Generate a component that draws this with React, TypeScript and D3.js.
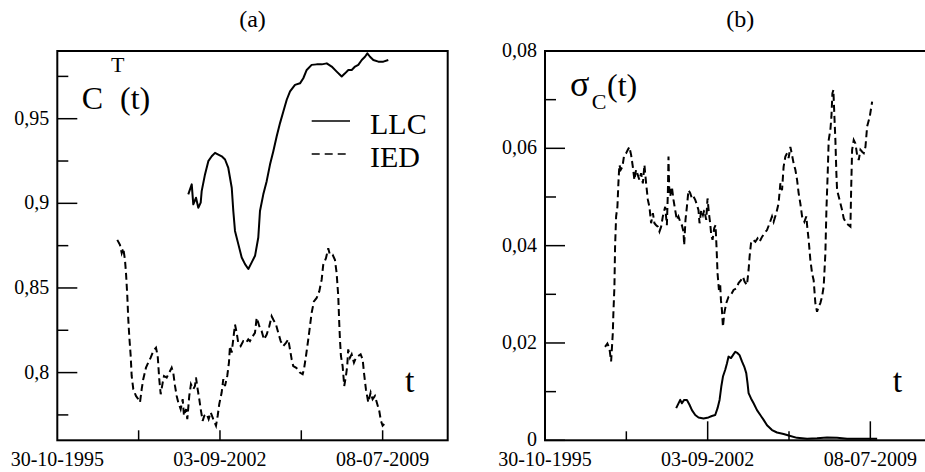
import React, { useEffect, useRef } from 'react';
import * as d3 from 'd3';

type Pt = [number, number]; // [days since 30-10-1995, value]

const startDate = Date.UTC(1995, 9, 30);
const DAY = 864e5;
const xEndDay = 6000;
const xTickDays = [1250, 2500, 3750, 5000];
const xLabelDays = [0, 2500, 5000];

const ctMajor = [0.8, 0.85, 0.9, 0.95];
const ctMinor = [0.775, 0.825, 0.875, 0.925, 0.975];
const sdMajor = [0, 0.02, 0.04, 0.06, 0.08];
const sdMinor = [0.01, 0.03, 0.05, 0.07];

const legendNames = ['LLC', 'IED'];

// panel (a): C^T(t)
const ctLLC: Pt[] = [
  [2013, 0.9053], [2066, 0.9112], [2090, 0.8994], [2132, 0.9033], [2167, 0.8974], [2204, 0.9004],
  [2219, 0.9072], [2270, 0.9171], [2321, 0.9249], [2373, 0.9278], [2424, 0.9298], [2475, 0.9288],
  [2527, 0.9278], [2578, 0.9259], [2628, 0.9209], [2681, 0.9092], [2705, 0.8955], [2731, 0.8837],
  [2782, 0.8759], [2834, 0.8680], [2885, 0.8641], [2936, 0.8612], [2988, 0.8651], [3039, 0.8690],
  [3089, 0.8798], [3115, 0.8955], [3166, 0.9053], [3218, 0.9131], [3269, 0.9229], [3320, 0.9308],
  [3372, 0.9396], [3423, 0.9474], [3474, 0.9543], [3526, 0.9612], [3577, 0.9661], [3653, 0.9700],
  [3730, 0.9709], [3781, 0.9739], [3833, 0.9788], [3909, 0.9818], [3986, 0.9821], [4064, 0.9821],
  [4141, 0.9827], [4217, 0.9808], [4294, 0.9778], [4371, 0.9749], [4422, 0.9768], [4473, 0.9788],
  [4525, 0.9788], [4576, 0.9808], [4626, 0.9818], [4679, 0.9847], [4729, 0.9866], [4765, 0.9886],
  [4806, 0.9866], [4857, 0.9847], [4934, 0.9837], [5011, 0.9837], [5087, 0.9847],
];

const ctIED: Pt[] = [
  [922, 0.8784], [963, 0.8755], [990, 0.8706], [1014, 0.8735], [1040, 0.8666], [1056, 0.8588],
  [1076, 0.8451], [1091, 0.8314], [1106, 0.8215], [1128, 0.8098], [1143, 0.7980], [1168, 0.7902],
  [1209, 0.7862], [1245, 0.7843], [1271, 0.7824], [1297, 0.7902], [1321, 0.7961], [1363, 0.8029],
  [1398, 0.8059], [1435, 0.8088], [1475, 0.8127], [1517, 0.8147], [1543, 0.8098], [1567, 0.7961],
  [1589, 0.7872], [1620, 0.7941], [1640, 0.7980], [1681, 0.7971], [1721, 0.8000], [1758, 0.8029],
  [1782, 0.8000], [1809, 0.7921], [1835, 0.7862], [1859, 0.7824], [1896, 0.7784], [1927, 0.7843],
  [1947, 0.7745], [1978, 0.7784], [1998, 0.7725], [2028, 0.7862], [2054, 0.7931], [2090, 0.7902],
  [2116, 0.7921], [2131, 0.7971], [2157, 0.7902], [2182, 0.7843], [2204, 0.7784], [2234, 0.7715],
  [2259, 0.7745], [2296, 0.7755], [2326, 0.7725], [2357, 0.7765], [2397, 0.7725], [2439, 0.7686],
  [2465, 0.7745], [2489, 0.7814], [2526, 0.7882], [2551, 0.7961], [2577, 0.7921], [2612, 0.7980],
  [2638, 0.8059], [2654, 0.8157], [2680, 0.8118], [2704, 0.8196], [2731, 0.8284], [2757, 0.8235],
  [2781, 0.8176], [2818, 0.8157], [2858, 0.8186], [2900, 0.8176], [2935, 0.8196], [2961, 0.8186],
  [3003, 0.8215], [3038, 0.8235], [3064, 0.8324], [3089, 0.8294], [3104, 0.8274], [3141, 0.8245],
  [3176, 0.8196], [3218, 0.8225], [3258, 0.8274], [3294, 0.8333], [3319, 0.8314], [3361, 0.8284],
  [3396, 0.8235], [3433, 0.8186], [3473, 0.8157], [3514, 0.8176], [3550, 0.8196], [3576, 0.8137],
  [3602, 0.8078], [3626, 0.8039], [3668, 0.8029], [3703, 0.8019], [3729, 0.8000], [3771, 0.7990],
  [3791, 0.8019], [3822, 0.8098], [3857, 0.8196], [3883, 0.8274], [3909, 0.8353], [3944, 0.8421],
  [3986, 0.8441], [4026, 0.8480], [4063, 0.8549], [4087, 0.8637], [4129, 0.8676], [4164, 0.8735],
  [4190, 0.8696], [4232, 0.8696], [4267, 0.8666], [4293, 0.8588], [4318, 0.8451], [4333, 0.8294],
  [4344, 0.8196], [4359, 0.8098], [4385, 0.8039], [4410, 0.7921], [4436, 0.7980], [4456, 0.8039],
  [4471, 0.8137], [4498, 0.8088], [4524, 0.8108], [4559, 0.8059], [4590, 0.8088], [4625, 0.8098],
  [4662, 0.8108], [4693, 0.8078], [4713, 0.8000], [4743, 0.7902], [4779, 0.7824], [4816, 0.7882],
  [4846, 0.7843], [4882, 0.7862], [4917, 0.7814], [4948, 0.7774], [4974, 0.7715], [5000, 0.7686],
  [5025, 0.7696],
];

// panel (b): sigma_C(t)
const sdLLC: Pt[] = [
  [2016, 0.0066], [2052, 0.0076], [2078, 0.0083], [2104, 0.0076], [2139, 0.0083], [2181, 0.0083],
  [2221, 0.0073], [2258, 0.0062], [2309, 0.0052], [2359, 0.0047], [2436, 0.0045], [2513, 0.0047],
  [2565, 0.0050], [2616, 0.0052], [2652, 0.0066], [2683, 0.0083], [2709, 0.0110], [2735, 0.0131],
  [2770, 0.0145], [2796, 0.0158], [2821, 0.0172], [2858, 0.0169], [2889, 0.0175], [2924, 0.0182],
  [2960, 0.0179], [2990, 0.0175], [3027, 0.0162], [3063, 0.0151], [3093, 0.0138], [3113, 0.0117],
  [3129, 0.0097], [3166, 0.0086], [3206, 0.0076], [3258, 0.0062], [3309, 0.0052], [3360, 0.0042],
  [3412, 0.0031], [3489, 0.0021], [3566, 0.0016], [3667, 0.0013], [3771, 0.0009], [3874, 0.0005],
  [4028, 0.0003], [4181, 0.0004], [4335, 0.0006], [4489, 0.0005], [4643, 0.0003], [4797, 0.0003],
  [4951, 0.0003], [5105, 0.0003],
];

const sdIED: Pt[] = [
  [923, 0.0192], [959, 0.0199], [990, 0.0189], [1016, 0.0162], [1042, 0.0220], [1051, 0.0261],
  [1067, 0.0316], [1077, 0.0398], [1093, 0.0460], [1113, 0.0480], [1128, 0.0528], [1143, 0.0566],
  [1165, 0.0556], [1190, 0.0562], [1216, 0.0586], [1247, 0.0590], [1273, 0.0597], [1297, 0.0603],
  [1324, 0.0586], [1350, 0.0562], [1374, 0.0535], [1400, 0.0556], [1427, 0.0545], [1451, 0.0535],
  [1477, 0.0549], [1504, 0.0528], [1528, 0.0566], [1554, 0.0528], [1581, 0.0494], [1605, 0.0480],
  [1631, 0.0446], [1658, 0.0467], [1682, 0.0446], [1708, 0.0442], [1734, 0.0439], [1759, 0.0429],
  [1785, 0.0439], [1811, 0.0460], [1847, 0.0480], [1873, 0.0442], [1888, 0.0508], [1898, 0.0583],
  [1908, 0.0521], [1924, 0.0501], [1950, 0.0521], [1975, 0.0494], [2001, 0.0473], [2027, 0.0453],
  [2051, 0.0460], [2078, 0.0449], [2104, 0.0442], [2128, 0.0429], [2139, 0.0401], [2159, 0.0453],
  [2181, 0.0480], [2205, 0.0514], [2232, 0.0508], [2258, 0.0497], [2282, 0.0501], [2309, 0.0494],
  [2335, 0.0484], [2359, 0.0473], [2375, 0.0446], [2401, 0.0473], [2427, 0.0463], [2447, 0.0473],
  [2478, 0.0453], [2498, 0.0497], [2519, 0.0467], [2539, 0.0446], [2555, 0.0422], [2575, 0.0412],
  [2601, 0.0436], [2621, 0.0442], [2636, 0.0398], [2652, 0.0343], [2673, 0.0309], [2693, 0.0319],
  [2704, 0.0288], [2719, 0.0268], [2735, 0.0233], [2755, 0.0261], [2786, 0.0282], [2821, 0.0295],
  [2858, 0.0299], [2898, 0.0309], [2939, 0.0312], [2975, 0.0323], [3012, 0.0329], [3043, 0.0336],
  [3067, 0.0326], [3104, 0.0319], [3129, 0.0350], [3144, 0.0377], [3166, 0.0405], [3197, 0.0412],
  [3232, 0.0408], [3267, 0.0415], [3298, 0.0408], [3335, 0.0418], [3370, 0.0425], [3412, 0.0432],
  [3452, 0.0446], [3489, 0.0460], [3514, 0.0449], [3555, 0.0467], [3590, 0.0487], [3617, 0.0528],
  [3643, 0.0514], [3667, 0.0562], [3694, 0.0583], [3720, 0.0590], [3744, 0.0580], [3771, 0.0603],
  [3797, 0.0586], [3821, 0.0569], [3848, 0.0556], [3874, 0.0535], [3898, 0.0508], [3924, 0.0487],
  [3951, 0.0460], [3986, 0.0449], [4017, 0.0460], [4028, 0.0442], [4052, 0.0412], [4078, 0.0371],
  [4105, 0.0343], [4129, 0.0329], [4155, 0.0282], [4181, 0.0264], [4206, 0.0275], [4232, 0.0282],
  [4258, 0.0295], [4283, 0.0316], [4309, 0.0384], [4325, 0.0473], [4345, 0.0549], [4360, 0.0617],
  [4386, 0.0638], [4402, 0.0665], [4417, 0.0713], [4432, 0.0720], [4448, 0.0665], [4463, 0.0617],
  [4478, 0.0549], [4489, 0.0514], [4514, 0.0501], [4540, 0.0487], [4566, 0.0473], [4591, 0.0456],
  [4632, 0.0446], [4668, 0.0442], [4694, 0.0439], [4705, 0.0514], [4720, 0.0597], [4745, 0.0617],
  [4771, 0.0610], [4797, 0.0586], [4822, 0.0576], [4848, 0.0597], [4874, 0.0593], [4899, 0.0590],
  [4925, 0.0603], [4951, 0.0645], [4991, 0.0665], [5028, 0.0696],
];

const FONT = 'Liberation Serif, Times New Roman, DejaVu Serif, serif';
const W = 925, H = 472;
const TOP = 51, BOTTOM = 440.3, PW = 390.4;
const DASH = '7,4';

interface PanelOpts {
  left: number;
  title: string;
  yDomain: [number, number];
  yMajor: number[];
  yMinor: number[];
  xLongTicks: number[];
  xLongLen: number;
  xShortLen: number;
  llc: Pt[];
  ied: Pt[];
}

function drawPanel(svg: d3.Selection<SVGSVGElement, unknown, null, undefined>, o: PanelOpts) {
  const x = d3.scaleUtc()
    .domain([new Date(startDate), new Date(startDate + xEndDay * DAY)])
    .range([o.left, o.left + PW]);
  const y = d3.scaleLinear().domain(o.yDomain).range([BOTTOM, TOP]);
  const dayX = (d: number) => x(new Date(startDate + d * DAY));
  const g = svg.append('g');

  // title
  g.append('text')
    .attr('x', o.left + PW / 2).attr('y', 26.5)
    .attr('text-anchor', 'middle')
    .style('font-size', '24px')
    .text(o.title);

  // y ticks, drawn inward
  g.selectAll('line.ymaj').data(o.yMajor).enter().append('line')
    .attr('x1', o.left).attr('x2', o.left + 20)
    .attr('y1', d => y(d)).attr('y2', d => y(d))
    .attr('stroke', '#000').attr('stroke-width', 1.5);
  g.selectAll('line.ymin').data(o.yMinor).enter().append('line')
    .attr('x1', o.left).attr('x2', o.left + 11)
    .attr('y1', d => y(d)).attr('y2', d => y(d))
    .attr('stroke', '#000').attr('stroke-width', 1.5);
  g.selectAll('text.ylab').data(o.yMajor).enter().append('text')
    .attr('x', o.left - 8).attr('y', d => y(d)).attr('dy', '0.3em')
    .attr('text-anchor', 'end')
    .style('font-size', '20px')
    .text(d => String(d).replace('.', ','));

  // x ticks
  g.selectAll('line.xt').data(xTickDays).enter().append('line')
    .attr('x1', d => dayX(d)).attr('x2', d => dayX(d))
    .attr('y1', BOTTOM)
    .attr('y2', d => BOTTOM - (o.xLongTicks.includes(d) ? o.xLongLen : o.xShortLen))
    .attr('stroke', '#000').attr('stroke-width', 1.5);
  const fmt = d3.utcFormat('%d-%m-%Y');
  g.selectAll('text.xlab').data(xLabelDays).enter().append('text')
    .attr('x', d => dayX(d)).attr('y', 466)
    .attr('text-anchor', 'middle')
    .style('font-size', '20px')
    .text(d => fmt(new Date(startDate + d * DAY)));

  // series
  const line = d3.line<Pt>().x(d => dayX(d[0])).y(d => y(d[1]));
  g.append('path').datum(o.llc).attr('d', line)
    .attr('fill', 'none').attr('stroke', '#000').attr('stroke-width', 2)
    .attr('stroke-linejoin', 'round');
  g.append('path').datum(o.ied).attr('d', line)
    .attr('fill', 'none').attr('stroke', '#000').attr('stroke-width', 2)
    .attr('stroke-dasharray', DASH);

  // frame
  g.append('rect')
    .attr('x', o.left).attr('y', TOP).attr('width', PW).attr('height', BOTTOM - TOP)
    .attr('fill', 'none').attr('stroke', '#000').attr('stroke-width', 2);
}

export default function App() {
  const svgRef = useRef<SVGSVGElement | null>(null);

  useEffect(() => {
    if (!svgRef.current) return;
    const svg = d3.select(svgRef.current);
    svg.selectAll('*').remove();

    drawPanel(svg, {
      left: 57.3, title: '(a)', yDomain: [0.76, 0.99], yMajor: ctMajor, yMinor: ctMinor,
      xLongTicks: [], xLongLen: 10, xShortLen: 10, llc: ctLLC, ied: ctIED,
    });
    drawPanel(svg, {
      left: 545, title: '(b)', yDomain: [0, 0.08], yMajor: sdMajor, yMinor: sdMinor,
      xLongTicks: [2500, 5000], xLongLen: 19, xShortLen: 9, llc: sdLLC, ied: sdIED,
    });

    // legend in panel (a)
    const lg = svg.append('g').style('font-size', '30px');
    legendNames.forEach((name, i) => {
      const ly = 121 + i * 33;
      lg.append('line')
        .attr('x1', 311.7).attr('x2', 350).attr('y1', ly).attr('y2', ly)
        .attr('stroke', '#000').attr('stroke-width', 1.7)
        .attr('stroke-dasharray', i === 1 ? '8,5' : null);
      lg.append('text').attr('x', 370).attr('y', ly + 12.5).text(name);
    });

    // C^T(t)
    const la = svg.append('text').style('font-size', '32px');
    la.append('tspan').attr('x', 81.7).attr('y', 108.5).text('C');
    la.append('tspan').attr('x', 111).attr('y', 71.7).style('font-size', '22px').text('T');
    la.append('tspan').attr('x', 120).attr('y', 108.5).text('(t)');

    // sigma_C(t)
    const lb = svg.append('text').style('font-size', '32px');
    lb.append('tspan').attr('x', 570).attr('y', 96).style('font-size', '36px').text('σ');
    lb.append('tspan').attr('x', 591.7).attr('y', 109).style('font-size', '22px').text('C');
    lb.append('tspan').attr('x', 607).attr('y', 96).text('(t)');

    // "t" axis hints
    [405, 892.7].forEach(tx => {
      svg.append('text').attr('x', tx).attr('y', 392).style('font-size', '34px').text('t');
    });
  }, []);

  return (
    <svg
      ref={svgRef}
      width={W}
      height={H}
      style={{ position: 'absolute', left: 0, top: 0, background: '#fff', fontFamily: FONT }}
    />
  );
}
